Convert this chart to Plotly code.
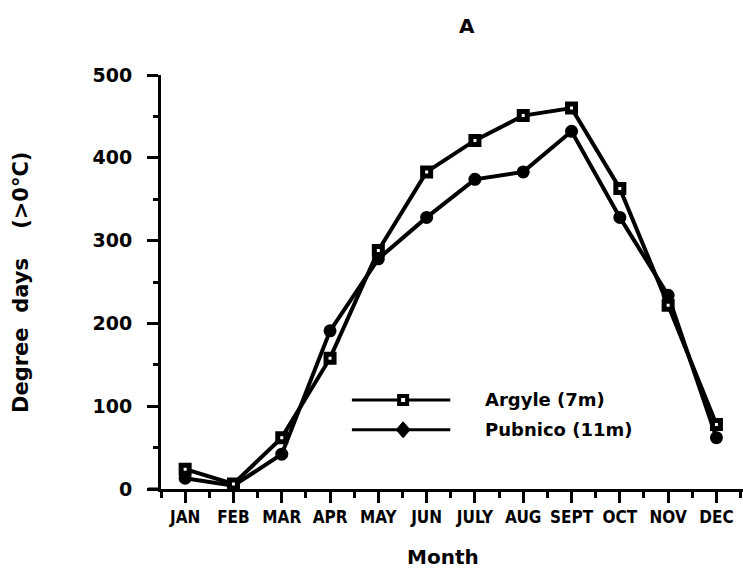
import plotly.graph_objects as go

months = ["JAN", "FEB", "MAR", "APR", "MAY", "JUN", "JULY", "AUG", "SEPT", "OCT", "NOV", "DEC"]
argyle = [24, 6, 62, 158, 288, 383, 421, 451, 460, 363, 222, 78]
pubnico = [13, 4, 42, 191, 278, 328, 374, 383, 432, 328, 234, 62]
y_ticks = [0, 100, 200, 300, 400, 500]

x_idx = list(range(len(months)))
BOLD = "DejaVu Sans"

fig = go.Figure()
fig.add_trace(go.Scatter(
    x=x_idx, y=pubnico, mode="lines+markers", name="Pubnico (11m)",
    line=dict(color="black", width=4),
    marker=dict(symbol="circle", size=13, color="black"),
    cliponaxis=False, showlegend=False))
fig.add_trace(go.Scatter(
    x=x_idx, y=argyle, mode="lines+markers", name="Argyle (7m)",
    line=dict(color="black", width=4),
    marker=dict(symbol="square", size=8, color="white", line=dict(color="black", width=5)),
    cliponaxis=False, showlegend=False))

# manual legend (long line samples as in the original)
leg_x0, leg_x1, leg_xm, leg_xt = 0.328, 0.497, 0.416, 0.553
leg_y = [0.215, 0.143]
shapes = []
for yy in leg_y:
    shapes.append(dict(type="line", xref="paper", yref="paper", x0=leg_x0, x1=leg_x1,
                       y0=yy, y1=yy, line=dict(color="black", width=3)))
shapes.append(dict(type="rect", xref="paper", yref="paper", xsizemode="pixel", ysizemode="pixel",
                   xanchor=leg_xm, yanchor=leg_y[0], x0=-4, x1=4, y0=-4, y1=4,
                   fillcolor="white", line=dict(color="black", width=4)))
shapes.append(dict(type="path", xref="paper", yref="paper", xsizemode="pixel", ysizemode="pixel",
                   xanchor=leg_xm, yanchor=leg_y[1], path="M0,8 L7,0 L0,-8 L-7,0 Z",
                   fillcolor="black", line=dict(color="black", width=1)))
# short extension of the x axis line to the left of the y axis
shapes.append(dict(type="line", xref="paper", yref="paper", xsizemode="pixel",
                   xanchor=0, x0=-13, x1=0, y0=0, y1=0, line=dict(color="black", width=3)))

annotations = [
    dict(text="Argyle (7m)", x=leg_xt, y=leg_y[0], xref="paper", yref="paper",
         xanchor="left", yanchor="middle", showarrow=False,
         font=dict(family=BOLD, size=18, color="black", weight="bold")),
    dict(text="Pubnico (11m)", x=leg_xt, y=leg_y[1], xref="paper", yref="paper",
         xanchor="left", yanchor="middle", showarrow=False,
         font=dict(family=BOLD, size=18, color="black", weight="bold")),
    dict(text="A", x=0.526, y=1.118, xref="paper", yref="paper",
         xanchor="center", yanchor="middle", showarrow=False,
         font=dict(family=BOLD, size=20, color="black", weight="bold")),
    dict(text="Month", x=0.485, y=-0.164, xref="paper", yref="paper",
         xanchor="center", yanchor="middle", showarrow=False,
         font=dict(family=BOLD, size=20, color="black", weight="bold")),
    dict(text="Degree\u00a0\u00a0days\u00a0\u00a0\u00a0\u00a0(>0°C)", x=-0.2405, y=0.4976,
         xref="paper", yref="paper", textangle=-90,
         xanchor="center", yanchor="middle", showarrow=False,
         font=dict(family=BOLD, size=21, color="black", weight="bold")),
]

fig.update_layout(
    width=743, height=572,
    margin=dict(l=161, r=0, t=75, b=83),
    paper_bgcolor="white", plot_bgcolor="white",
    shapes=shapes, annotations=annotations,
    xaxis=dict(range=[-0.5, 11.55], tickvals=x_idx, ticktext=months,
               showgrid=False, zeroline=False, showline=True, linecolor="black", linewidth=3,
               ticks="outside", ticklen=11, tickwidth=3, tickcolor="black",
               minor=dict(tick0=0.5, dtick=1, ticks="outside", ticklen=6, tickwidth=3, tickcolor="black"),
               tickfont=dict(family="DejaVu Sans Condensed, DejaVu Sans", size=17, color="black", weight="bold"),
               fixedrange=True),
    yaxis=dict(range=[0, 500], tickvals=y_ticks,
               showgrid=False, zeroline=False, showline=True, linecolor="black", linewidth=3,
               ticks="outside", ticklen=11, tickwidth=3, tickcolor="black",
               minor=dict(dtick=50, tick0=0, ticks="outside", ticklen=5, tickwidth=3, tickcolor="black"),
               tickfont=dict(family=BOLD, size=19, color="black", weight="bold"),
               ticklabelstandoff=11, fixedrange=True),
)

fig.write_html("out.html")
